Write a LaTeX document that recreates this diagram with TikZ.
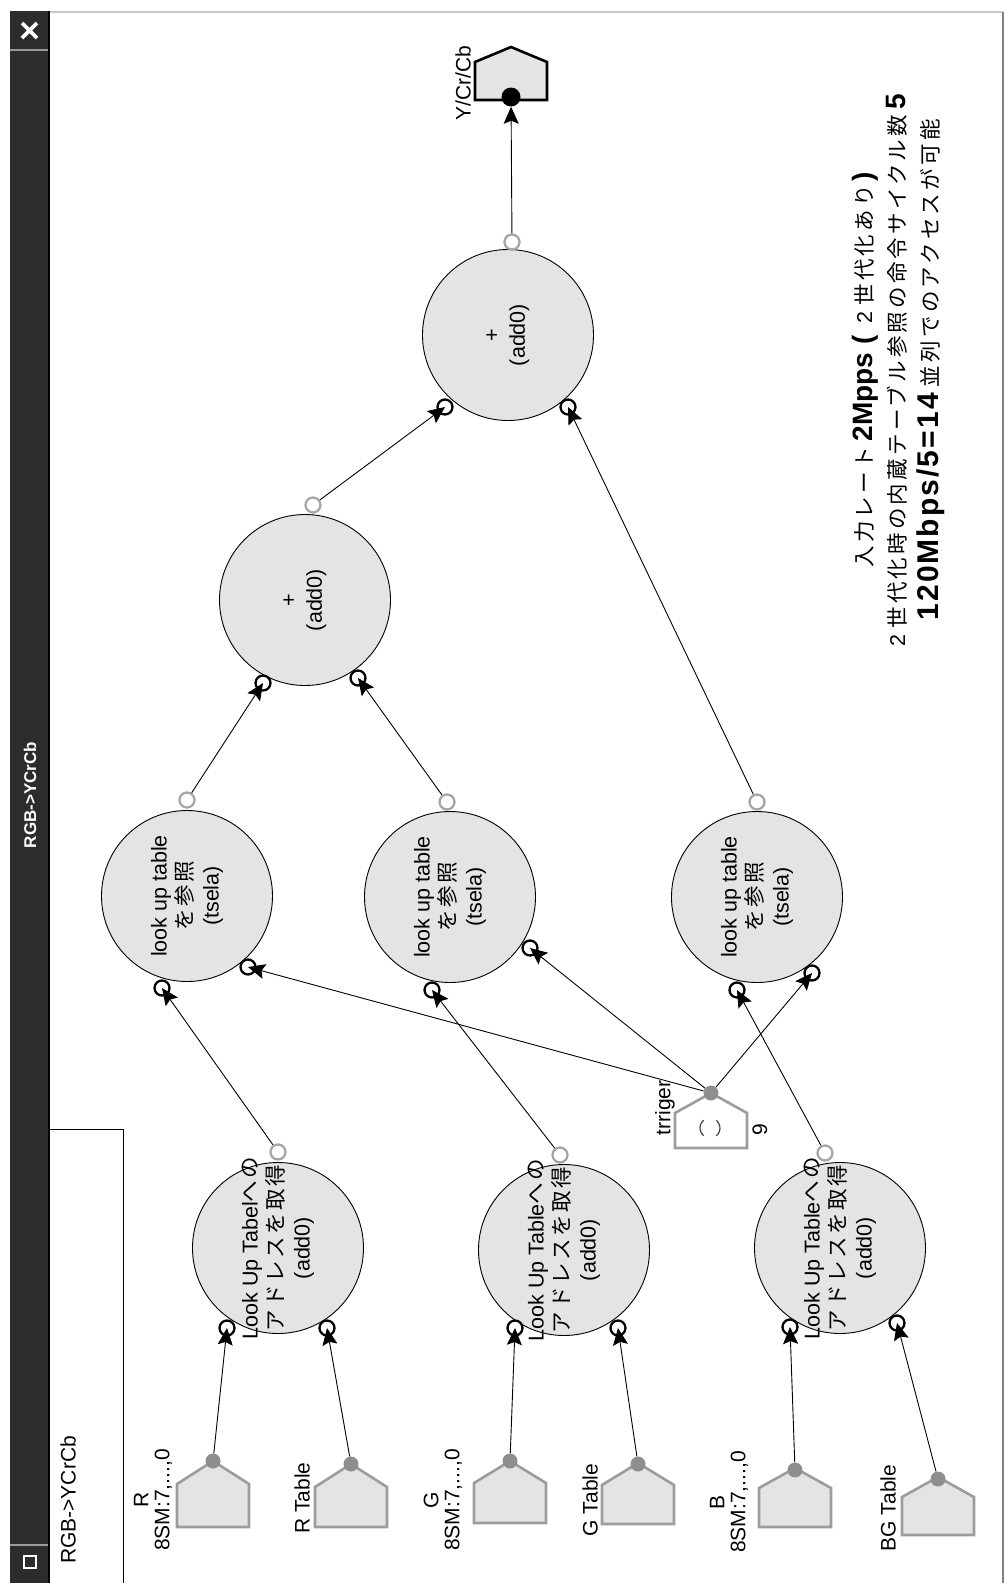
\documentclass[tikz,border=0pt]{standalone}
\usepackage{fontspec}
\setmainfont{Liberation Sans}
\newfontfamily\jp[LetterSpace=12]{Noto Sans CJK JP}
\newfontfamily\jpw[LetterSpace=15]{Noto Sans CJK JP}
\usetikzlibrary{arrows.meta}

\definecolor{blockfill}{HTML}{E4E4E4}
\definecolor{portgray}{HTML}{A6A6A6}
\definecolor{dotgray}{HTML}{8E8E8E}
\definecolor{shapegray}{HTML}{9C9C9C}
\definecolor{barcol}{HTML}{2C2C2C}
\definecolor{framegray}{HTML}{C8C8C8}

\newcommand{\bigb}[1]{{\fontsize{28}{33}\selectfont\bfseries #1}}
\newcommand{\bigbw}[1]{{\fontsize{30}{33}\selectfont\bfseries\addfontfeature{LetterSpace=7}#1}}
% house-shaped terminal: style, centre x, apex y, shoulder drop, height
\newcommand{\housepent}[5]{%
  \path[#1] (#2,#3) -- (#2+36,#3+#4) -- (#2+36,#3+#5) -- (#2-36,#3+#5) -- (#2-36,#3+#4) -- cycle;}

\tikzset{
  block/.style={circle, draw=black, line width=0.9pt, fill=blockfill, minimum size=171pt, inner sep=0pt},
  blocktext/.style={rotate=90, align=center, font=\fontsize{21.5}{26}\selectfont, inner sep=0pt},
  inport/.style={circle, draw=black, line width=2.3pt, fill=white, minimum size=15pt, inner sep=0pt},
  outport/.style={circle, draw=portgray, line width=2.3pt, fill=white, minimum size=15pt, inner sep=0pt},
  srcdot/.style={circle, fill=dotgray, minimum size=15pt, inner sep=0pt},
  sinkdot/.style={circle, fill=black, minimum size=19pt, inner sep=0pt},
  conn/.style={draw=black, line width=0.9pt, -{Stealth[length=17pt,width=15pt,inset=3pt]}},
  lbl/.style={rotate=90, align=center, font=\fontsize{21}{21}\selectfont, inner sep=0pt},
  housein/.style={draw=shapegray, line width=2.6pt, fill=blockfill, line join=miter},
  housetrig/.style={draw=shapegray, line width=2.6pt, fill=white, line join=miter},
  houseout/.style={draw=black, line width=2.6pt, fill=blockfill, line join=miter},
}

\begin{document}
\begin{tikzpicture}[x=1pt,y=-1pt]
\useasboundingbox (0,0) rectangle (1008,1583);
\fill[white] (0,0) rectangle (1008,1583);

% window frame
\draw[framegray, line width=1.2pt] (50,12) -- (1003,12);
\draw[gray, line width=1.2pt] (1003,12) -- (1003,1583);

% title bar
\fill[barcol] (10,11) rectangle (50,1583);
\draw[black, line width=2pt] (49,11) -- (49,1583);
\draw[gray!80, line width=1.2pt] (10,50) -- (48,50);
\draw[gray!80, line width=1.2pt] (10,1545) -- (48,1545);
\draw[white, line width=3.6pt] (22,23) -- (37,38) (22,38) -- (37,23);
\draw[white, line width=1.6pt] (24,1556) rectangle (36,1568);
\node[rotate=90, white, font=\fontsize{17}{20}\selectfont\bfseries] (title) at (30,795) {RGB->YCrCb};

% side panel
\draw[black, line width=1pt] (50,1129) -- (123,1129) -- (123,1583);
\node[lbl] (panel) at (68,1500) {RGB->YCrCb};

% terminals
\housepent{housein}{213}{1461}{23}{66}
\housepent{housein}{351}{1464}{23}{63}
\housepent{housein}{510}{1461}{22}{62}
\housepent{housein}{638}{1463}{22}{61}
\housepent{housein}{795}{1468}{20}{59}
\housepent{housein}{938}{1477}{20}{58}
\housepent{housetrig}{711}{1093}{20}{55}
\housepent{houseout}{511}{47}{15}{53}

\node[srcdot] (r8) at (213,1461) {};
\node[srcdot] (rt) at (351,1464) {};
\node[srcdot] (g8) at (510,1461) {};
\node[srcdot] (gt) at (638,1464) {};
\node[srcdot] (b8) at (795,1470) {};
\node[srcdot] (bgt) at (938,1479) {};
\node[srcdot] (trig) at (711,1093) {};
\node[sinkdot] (ycc) at (511,97) {};

% clock glyph of the trigger source
\begin{scope}[shift={(710,1128)}, x=1pt, y=1pt]
  \draw[black!75, line width=1.2pt] (-6.4,7.7) arc[start angle=130, end angle=230, radius=10];
  \draw[black!75, line width=1.2pt] (6.4,-7.7) arc[start angle=-50, end angle=50, radius=10];
\end{scope}

% terminal labels
\node[lbl] (r8l) at (153,1500) {R\\8SM:7,...,0};
\node[lbl] (rtl) at (302,1498) {R Table};
\node[lbl] (g8l) at (443,1500) {G\\8SM:7,...,0};
\node[lbl] (gtl) at (590,1500) {G Table};
\node[lbl] (b8l) at (729,1502) {B\\8SM:7,...,0};
\node[lbl] (bgtl) at (888,1508) {BG Table};
\node[lbl] (trigl) at (665,1108) {trriger};
\node[lbl] (trign) at (760,1130) {9};
\node[lbl] (yccl) at (463,83) {Y/Cr/Cb};

% processing blocks
\node[block] (lut1) at (278,1248) {};
\node[block] (lut2) at (564,1250) {};
\node[block] (lut3) at (840,1248) {};
\node[block] (sel1) at (187,896) {};
\node[block] (sel2) at (450,897) {};
\node[block] (sel3) at (757,897) {};
\node[block] (add1) at (305,600) {};
\node[block] (add2) at (508,335) {};

% ports
\node[inport] (lut1a) at (227,1328) {};
\node[inport] (lut1b) at (327,1328) {};
\node[outport] (lut1o) at (278,1152) {};
\node[inport] (lut2a) at (515,1328) {};
\node[inport] (lut2b) at (618,1328) {};
\node[outport] (lut2o) at (560,1155) {};
\node[inport] (lut3a) at (790,1327) {};
\node[inport] (lut3b) at (897,1323) {};
\node[outport] (lut3o) at (825,1153) {};
\node[inport] (sel1a) at (162,988) {};
\node[inport] (sel1b) at (248,967) {};
\node[outport] (sel1o) at (187,800) {};
\node[inport] (sel2a) at (432,990) {};
\node[inport] (sel2b) at (530,948) {};
\node[outport] (sel2o) at (447,802) {};
\node[inport] (sel3a) at (737,990) {};
\node[inport] (sel3b) at (812,973) {};
\node[outport] (sel3o) at (757,802) {};
\node[inport] (add1a) at (263,683) {};
\node[inport] (add1b) at (358,678) {};
\node[outport] (add1o) at (313,505) {};
\node[inport] (add2a) at (445,407) {};
\node[inport] (add2b) at (568,407) {};
\node[outport] (add2o) at (512,242) {};

% connectors
\draw[conn] (r8) -- (lut1a.center);
\draw[conn] (rt) -- (lut1b.center);
\draw[conn] (g8) -- (lut2a.center);
\draw[conn] (gt) -- (lut2b.center);
\draw[conn] (b8) -- (lut3a.center);
\draw[conn] (bgt) -- (lut3b.center);
\draw[conn] (lut1o) -- (sel1a.center);
\draw[conn] (lut2o) -- (sel2a.center);
\draw[conn] (lut3o) -- (sel3a.center);
\draw[conn] (trig) -- (sel1b.center);
\draw[conn] (trig) -- (sel2b.center);
\draw[conn] (trig) -- (sel3b.center);
\draw[conn] (sel1o) -- (add1a.center);
\draw[conn] (sel2o) -- (add1b.center);
\draw[conn] (sel3o) -- (add2b.center);
\draw[conn] (add1o) -- (add2a.center);
\draw[conn] (add2o) -- (ycc);

% block captions
\node[blocktext] (lut1t) at (lut1) {Look Up Tabel{\jp への}\\{\jp アドレスを取得}\\(add0)};
\node[blocktext] (lut2t) at (lut2) {Look Up Table{\jp への}\\{\jp アドレスを取得}\\(add0)};
\node[blocktext] (lut3t) at (lut3) {Look Up Table{\jp への}\\{\jp アドレスを取得}\\(add0)};
\node[blocktext] (sel1t) at (sel1) {look up table\\{\jp を参照}\\(tsela)};
\node[blocktext] (sel2t) at (sel2) {look up table\\{\jp を参照}\\(tsela)};
\node[blocktext] (sel3t) at (sel3) {look up table\\{\jp を参照}\\(tsela)};
\node[blocktext] (add1t) at (add1) {+\\(add0)};
\node[blocktext] (add2t) at (add2) {+\\(add0)};

% notes
\node[rotate=90, align=center, font=\fontsize{21.5}{33}\selectfont, inner sep=0pt] (notes) at (898,370)
  {{\jpw 入力レート} \bigb{2Mpps (}\ \ 2 {\jpw 世代化あり}\,\bigb{)}\\
   2 {\jpw 世代化時の内蔵テーブル参照の命令サイクル数} \bigb{5}\\
   \bigbw{120Mbps/5=14} {\jpw 並列でのアクセスが可能}};
\end{tikzpicture}
\end{document}
